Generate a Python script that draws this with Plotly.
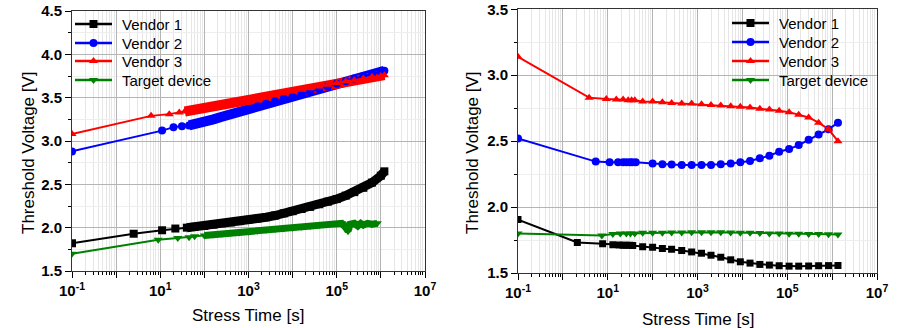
import plotly.graph_objects as go

# ---------------- Left panel: threshold voltage vs. stress time ----------------
t_l_v1 = [0.1, 2.5, 11, 22, 40, 60, 100, 160, 250, 400, 630, 1000, 1600, 2500, 4000,
          6300, 1e4, 1.6e4, 2.5e4, 4e4, 6.3e4, 1e5, 1.6e5, 2.5e5, 4e5, 6.3e5, 1e6, 1.2e6]
vt_l_v1 = [1.82, 1.93, 1.97, 1.99, 2.00, 2.01, 2.02, 2.035, 2.05, 2.06, 2.075, 2.09, 2.105,
           2.12, 2.14, 2.165, 2.19, 2.215, 2.24, 2.27, 2.30, 2.33, 2.37, 2.41, 2.46, 2.52,
           2.60, 2.65]

t_l_v2 = [0.1, 11, 20, 31, 45, 60, 100, 160, 250, 400, 630, 1000, 1600, 2500, 4000,
          6300, 1e4, 1.6e4, 2.5e4, 4e4, 6.3e4, 1e5, 1.6e5, 2.5e5, 4e5, 6.3e5, 1e6, 1.2e6]
vt_l_v2 = [2.88, 3.12, 3.16, 3.17, 3.18, 3.19, 3.22, 3.25, 3.28, 3.31, 3.34, 3.37, 3.40,
           3.43, 3.46, 3.49, 3.51, 3.54, 3.57, 3.60, 3.63, 3.66, 3.69, 3.72, 3.75, 3.77,
           3.80, 3.81]

t_l_v3 = [0.1, 6.2, 16, 27, 36, 60, 100, 160, 250, 400, 630, 1000, 1600, 2500, 4000,
          6300, 1e4, 1.6e4, 2.5e4, 4e4, 6.3e4, 1e5, 1.6e5, 2.5e5, 4e5, 6.3e5, 1e6, 1.2e6]
vt_l_v3 = [3.08, 3.29, 3.31, 3.33, 3.34, 3.36, 3.38, 3.40, 3.42, 3.44, 3.455, 3.47, 3.49,
           3.51, 3.53, 3.55, 3.57, 3.59, 3.61, 3.63, 3.65, 3.67, 3.69, 3.70, 3.72, 3.74,
           3.75, 3.76]

t_l_tg = [0.1, 9, 25, 45, 60, 100, 160, 250, 400, 630, 1000, 1600, 2500, 4000, 6300,
          1e4, 1.6e4, 2.5e4, 4e4, 6.3e4, 1e5, 1.3e5, 1.6e5, 1.8e5, 2.0e5, 2.5e5, 3e5,
          3.5e5, 4e5, 5e5, 6.3e5, 8.3e5]
vt_l_tg = [1.70, 1.86, 1.88, 1.89, 1.90, 1.91, 1.92, 1.93, 1.94, 1.945, 1.955, 1.965,
           1.975, 1.985, 1.99, 2.00, 2.01, 2.02, 2.03, 2.04, 2.045, 2.05, 2.00, 1.96, 2.04,
           2.05, 2.02, 2.05, 2.03, 2.05, 2.04, 2.05]

# ---------------- Right panel ----------------
t_r_v1 = [0.1, 2.1, 7.7, 13, 18, 22, 26, 31, 36, 60, 100, 165, 265, 445, 740, 1230, 2000,
          3300, 5500, 9000, 14800, 24500, 40000, 66000, 1.1e5, 1.8e5, 3e5, 5e5, 8.3e5, 1.35e6]
vt_r_v1 = [1.905, 1.732, 1.722, 1.715, 1.712, 1.71, 1.71, 1.71, 1.708, 1.70, 1.695, 1.685,
           1.68, 1.67, 1.66, 1.65, 1.635, 1.62, 1.60, 1.585, 1.575, 1.565, 1.56, 1.555,
           1.552, 1.552, 1.553, 1.555, 1.556, 1.557]

t_r_v2 = [0.1, 5.4, 11, 17, 22, 26, 31, 35, 42, 100, 165, 265, 445, 740, 1230, 2000, 3300,
          5500, 9000, 14800, 24500, 40000, 66000, 1.1e5, 1.8e5, 3e5, 5e5, 8.3e5, 1.35e6]
vt_r_v2 = [2.52, 2.345, 2.34, 2.34, 2.34, 2.34, 2.34, 2.34, 2.34, 2.33, 2.325, 2.322, 2.32,
           2.32, 2.32, 2.32, 2.325, 2.33, 2.34, 2.35, 2.37, 2.39, 2.42, 2.44, 2.47, 2.51,
           2.55, 2.59, 2.64]

t_r_v3 = [0.1, 3.85, 9.3, 15.5, 22, 28.5, 34, 40, 60, 100, 165, 265, 445, 740, 1230, 2000,
          3300, 5500, 9000, 14800, 24500, 40000, 66000, 1.1e5, 1.8e5, 3e5, 5e5, 8.3e5, 1.35e6]
vt_r_v3 = [3.14, 2.83, 2.82, 2.815, 2.815, 2.81, 2.81, 2.81, 2.80, 2.80, 2.795, 2.79, 2.785,
           2.785, 2.78, 2.775, 2.77, 2.765, 2.76, 2.755, 2.745, 2.74, 2.73, 2.72, 2.70, 2.68,
           2.64, 2.59, 2.50]

t_r_tg = [0.1, 7.4, 13, 19, 26, 32, 40, 60, 100, 165, 265, 445, 740, 1230, 2000, 3300,
          5500, 9000, 14800, 24500, 40000, 66000, 1.1e5, 1.8e5, 3e5, 5e5, 8.3e5, 1.35e6]
vt_r_tg = [1.80, 1.785, 1.795, 1.80, 1.80, 1.80, 1.80, 1.805, 1.805, 1.805, 1.807, 1.808,
           1.81, 1.81, 1.81, 1.81, 1.808, 1.806, 1.805, 1.803, 1.80, 1.80, 1.798, 1.797,
           1.795, 1.795, 1.793, 1.792]

series_names = ["Vendor 1", "Vendor 2", "Vendor 3", "Target device"]
colors = ["#000000", "#0000FF", "#FF0000", "#008000"]
symbols = ["square", "circle", "triangle-up", "triangle-down"]

x_tick_vals = [10.0 ** e for e in range(-1, 8)]
x_tick_text = ["10<sup>%d</sup>" % e if e % 2 else "" for e in range(-1, 8)]
x_minor_vals = [k * 10.0 ** e for e in range(-1, 7) for k in range(2, 10)]

FONT = "Liberation Sans, Arial, sans-serif"
W, H = 900, 328

fig = go.Figure()

# (times, voltages, first index of the densely logged stretch, band width)
left = [(t_l_v1, vt_l_v1, 4, 9), (t_l_v2, vt_l_v2, 4, 10),
        (t_l_v3, vt_l_v3, 4, 10), (t_l_tg, vt_l_tg, 5, 7)]
right = [(t_r_v1, vt_r_v1), (t_r_v2, vt_r_v2), (t_r_v3, vt_r_v3), (t_r_tg, vt_r_tg)]

# Densely sampled part of the long-term measurement drawn as a heavy band
for i, (tx, vy, d0, bw) in enumerate(left):
    fig.add_trace(go.Scatter(
        x=tx[d0:], y=vy[d0:], mode="lines", xaxis="x", yaxis="y",
        line=dict(color=colors[i], width=bw), showlegend=False, hoverinfo="skip"))

for i, (tx, vy, d0, bw) in enumerate(left):
    fig.add_trace(go.Scatter(
        x=tx, y=vy, mode="lines+markers", name=series_names[i], xaxis="x", yaxis="y",
        line=dict(color=colors[i], width=2),
        marker=dict(symbol=symbols[i], size=8, color=colors[i]), showlegend=False))

for i, (tx, vy) in enumerate(right):
    fig.add_trace(go.Scatter(
        x=tx, y=vy, mode="lines+markers", name=series_names[i], xaxis="x2", yaxis="y2",
        line=dict(color=colors[i], width=2),
        marker=dict(symbol=symbols[i], size=8 if i else 7, color=colors[i]),
        showlegend=False))

# Legend keys drawn on a pixel-based overlay axis (line - marker - line, then label)
legend_blocks = [(75, 112, 120, [24, 43, 61, 80]),
                 (732, 769, 777, [23, 42, 61, 80])]
for x0, x1, xt, rows in legend_blocks:
    for i, yr in enumerate(rows):
        fig.add_trace(go.Scatter(
            x=[x0, (x0 + x1) / 2, x1], y=[yr, yr, yr], mode="lines", xaxis="x3", yaxis="y3",
            line=dict(color=colors[i], width=2.5), showlegend=False, hoverinfo="skip"))
        fig.add_trace(go.Scatter(
            x=[(x0 + x1) / 2], y=[yr], mode="markers", xaxis="x3", yaxis="y3",
            marker=dict(symbol=symbols[i], size=8, color=colors[i]),
            showlegend=False, hoverinfo="skip"))
        fig.add_annotation(x=xt, y=yr, xref="x3", yref="y3", text=series_names[i],
                           showarrow=False, xanchor="left", yanchor="middle",
                           font=dict(family=FONT, size=15, color="#000"))


def x_axis(domain, anchor):
    return dict(
        type="log", domain=domain, anchor=anchor, range=[-1, 7],
        tickvals=x_tick_vals, ticktext=x_tick_text,
        ticks="outside", ticklen=6, tickwidth=1, tickcolor="#000",
        showline=True, linecolor="#333", linewidth=1, mirror=True,
        showgrid=True, gridcolor="#b4b4b4", gridwidth=1,
        minor=dict(tickvals=x_minor_vals, ticks="outside", ticklen=3, tickcolor="#000",
                   showgrid=True, gridcolor="#e6e6e6", gridwidth=1),
        tickfont=dict(family=FONT, size=15, color="#000", weight="bold"),
        zeroline=False, automargin=False)


def y_axis(domain, anchor, rng):
    return dict(
        domain=domain, anchor=anchor, range=rng, dtick=0.5, tickformat=".1f",
        ticks="outside", ticklen=6, tickwidth=1, tickcolor="#000",
        showline=True, linecolor="#333", linewidth=1, mirror=True,
        showgrid=True, gridcolor="#b4b4b4", gridwidth=1,
        minor=dict(dtick=0.25, ticks="outside", ticklen=3, tickcolor="#000",
                   showgrid=True, gridcolor="#eeeeee", gridwidth=1),
        tickfont=dict(family=FONT, size=15, color="#000", weight="bold"),
        zeroline=False, automargin=False)


hidden = dict(visible=False, showgrid=False, zeroline=False, fixedrange=True)

fig.update_layout(
    width=W, height=H,
    margin=dict(l=0, r=0, t=0, b=0),
    paper_bgcolor="white", plot_bgcolor="rgba(0,0,0,0)",
    font=dict(family=FONT, color="#000"),
    xaxis=x_axis([72 / W, 425 / W], "y"),
    yaxis=y_axis([1 - 271 / H, 1 - 11 / H], "x", [1.5, 4.5]),
    xaxis2=x_axis([518 / W, 877 / W], "y2"),
    yaxis2=y_axis([1 - 273 / H, 1 - 9.3 / H], "x2", [1.5, 3.5]),
    xaxis3=dict(domain=[0, 1], anchor="y3", range=[0, W], **hidden),
    yaxis3=dict(domain=[0, 1], anchor="x3", range=[H, 0], **hidden),
    showlegend=False,
)

title_font = dict(family=FONT, size=17, color="#000")
for xc, yc, txt, ang in [
    (28, 153, "Threshold Voltage [V]", -90),
    (472, 153, "Threshold Voltage [V]", -90),
    (248, 315, "Stress Time [s]", 0),
    (698, 319, "Stress Time [s]", 0),
]:
    fig.add_annotation(x=xc / W, y=1 - yc / H, xref="paper", yref="paper",
                       text=txt, textangle=ang, showarrow=False, font=title_font,
                       xanchor="center", yanchor="middle")

fig.write_html("out.html")
